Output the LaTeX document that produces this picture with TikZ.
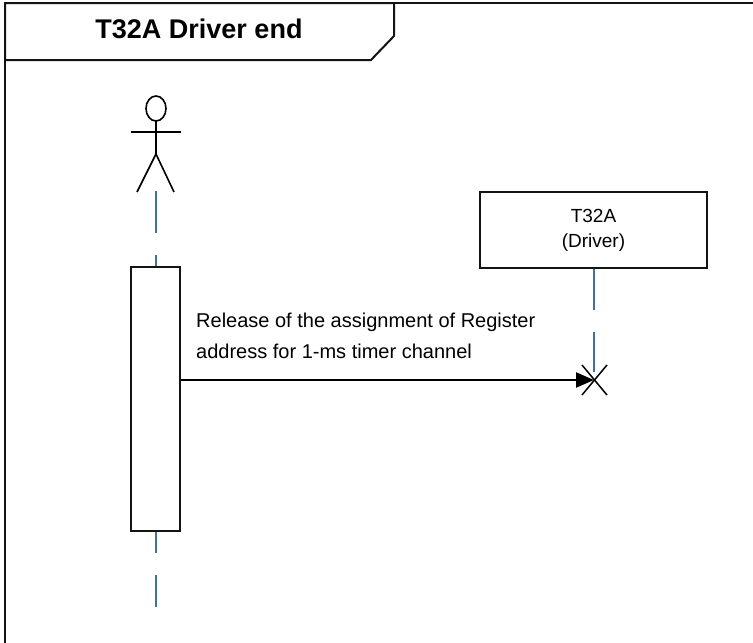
\documentclass[tikz,border=0pt]{standalone}
\usepackage{fontspec}
\setmainfont{Liberation Sans}
\usetikzlibrary{arrows.meta}
\definecolor{lifeblue}{RGB}{65,113,156}
\definecolor{framecol}{RGB}{20,20,20}
\begin{document}
\begin{tikzpicture}[x=1pt,y=-1pt,
  framestyle/.style={draw=framecol,line width=2pt},
  lifeline/.style={draw=lifeblue,line width=2pt,dash pattern=on 42pt off 22pt},
  objbox/.style={draw=framecol,line width=2pt,fill=white,inner sep=0pt},
  figure/.style={draw=black,line width=1.6pt},
  msg/.style={draw=black,line width=2.4pt,-{Triangle[length=18pt,width=15pt]}}
]
\useasboundingbox (0,0) rectangle (753,643);
% frame
\draw[framestyle] (5,643) -- (5,3) -- (753,3);
\draw[framestyle,fill=white] (5,3) -- (394,3) -- (394,36) -- (371,60) -- (5,60) -- cycle;
\node[font=\fontsize{27}{32}\selectfont\bfseries] (title) at (199,29) {T32A Driver end};
% actor
\coordinate (head) at (156,108.5);
\draw[figure] (head) ellipse [x radius=10, y radius=12.5];
\coordinate (neck) at (156,121);
\coordinate (hip) at (156,154);
\coordinate (armL) at (131,132);
\coordinate (armR) at (181,132);
\coordinate (legL) at (137,192);
\coordinate (legR) at (174,192);
\draw[figure] (neck) -- (hip);
\draw[figure] (armL) -- (armR);
\draw[figure] (legL) -- (hip) -- (legR);
% actor lifeline
\coordinate (l1s) at (156,191);
\coordinate (l1e) at (156,607);
\draw[lifeline] (l1s) -- (l1e);
% activation
\node[objbox,minimum width=49pt,minimum height=264pt] (act) at (155.5,399) {};
% T32A object
\node[objbox,minimum width=227pt,minimum height=76pt,align=center,
      font=\fontsize{19}{25}\selectfont] (drv) at (593.5,230) {T32A\\(Driver)};
\coordinate (xc) at (594,380);
\coordinate (l2e) at (594,372);
\draw[lifeline,dash pattern=on 41pt off 22pt] (drv.south -| xc) -- (l2e);
% destruction X
\coordinate (x1) at (582,365);
\coordinate (x2) at (607,395);
\coordinate (x3) at (607,365);
\coordinate (x4) at (582,395);
\draw[figure,line width=1.5pt] (x1) -- (x2);
\draw[figure,line width=1.5pt] (x3) -- (x4);
% message
\draw[msg] (act.east |- xc) -- (xc);
\node[anchor=base west,inner sep=0pt,align=left,
      font=\fontsize{20}{31}\selectfont] (lbl) at (196,358)
      {Release of the assignment of Register\\address for 1-ms timer channel};
\end{tikzpicture}
\end{document}
